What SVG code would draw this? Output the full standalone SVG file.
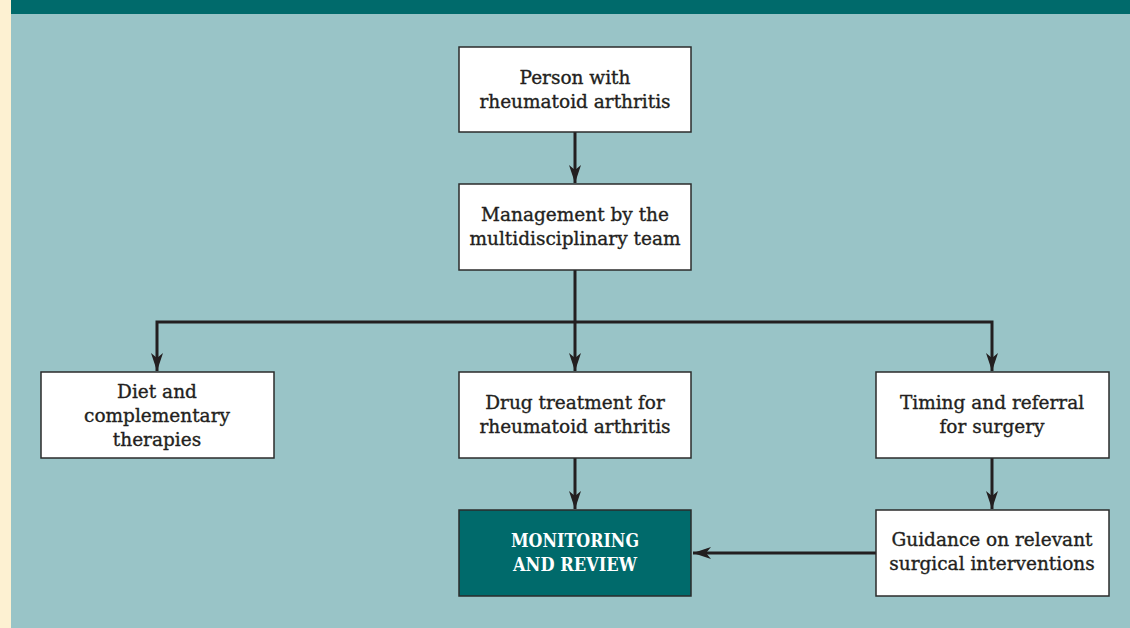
<svg xmlns="http://www.w3.org/2000/svg" width="1130" height="628" viewBox="0 0 1130 628">
<defs>
<marker id="ah" viewBox="0 0 18 12" refX="18" refY="6" markerWidth="18" markerHeight="12" markerUnits="userSpaceOnUse" orient="auto">
<path d="M0,0 L18,6 L0,12 L5,6 Z" fill="#231f20"/>
</marker>
<style>
.box{fill:#ffffff;stroke:#2b2b2b;stroke-width:1.5}
.dark{fill:#006a6b;stroke:#2b2b2b;stroke-width:1.5}
.t{font-family:"DejaVu Serif","Liberation Serif",serif;font-size:18.5px;fill:#231f20;stroke:#231f20;stroke-width:0.35;text-anchor:middle}
.tw{font-family:"DejaVu Serif","Liberation Serif",serif;font-size:19px;font-weight:bold;fill:#ffffff;text-anchor:middle}
.c{fill:none;stroke:#231f20;stroke-width:3}
</style>
</defs>
<rect x="0" y="0" width="1130" height="628" fill="#99c4c7"/>
<rect x="0" y="0" width="11" height="628" fill="#fdf1d2"/>
<rect x="11" y="0" width="1119" height="14" fill="#006a6b"/>
<g id="connectors">
<line class="c" x1="575" y1="132" x2="575" y2="183" marker-end="url(#ah)"/>
<line class="c" x1="575" y1="270" x2="575" y2="371" marker-end="url(#ah)"/>
<polyline class="c" points="157,371 157,322 992,322 992,371" marker-end="url(#ah)"/>
<line class="c" x1="575" y1="458" x2="575" y2="509" marker-end="url(#ah)"/>
<line class="c" x1="992" y1="458" x2="992" y2="509" marker-end="url(#ah)"/>
<line class="c" x1="876" y1="553" x2="693" y2="553" marker-end="url(#ah)"/>
<path d="M157,371 L151,353 L157,358 L163,353 Z" fill="#231f20"/>
</g>
<g id="n1"><rect class="box" x="459" y="47" width="232" height="85"/>
<text class="t" x="575" y="84">Person with</text><text class="t" x="575" y="108">rheumatoid arthritis</text></g>
<g id="n2"><rect class="box" x="459" y="184" width="232" height="86"/>
<text class="t" x="575" y="221">Management by the</text><text class="t" x="575" y="245">multidisciplinary team</text></g>
<g id="n3"><rect class="box" x="41" y="372" width="233" height="86"/>
<text class="t" x="157" y="398">Diet and</text><text class="t" x="157" y="422">complementary</text><text class="t" x="157" y="446">therapies</text></g>
<g id="n4"><rect class="box" x="459" y="372" width="232" height="86"/>
<text class="t" x="575" y="409">Drug treatment for</text><text class="t" x="575" y="433">rheumatoid arthritis</text></g>
<g id="n5"><rect class="box" x="876" y="372" width="233" height="86"/>
<text class="t" x="992" y="409">Timing and referral</text><text class="t" x="992" y="433">for surgery</text></g>
<g id="n6"><rect class="dark" x="459" y="510" width="232" height="86"/>
<text class="tw" x="575" y="547" textLength="128" lengthAdjust="spacingAndGlyphs">MONITORING</text><text class="tw" x="575" y="571" textLength="124" lengthAdjust="spacingAndGlyphs">AND REVIEW</text></g>
<g id="n7"><rect class="box" x="876" y="510" width="233" height="86"/>
<text class="t" x="992" y="546">Guidance on relevant</text><text class="t" x="992" y="570">surgical interventions</text></g>
</svg>
